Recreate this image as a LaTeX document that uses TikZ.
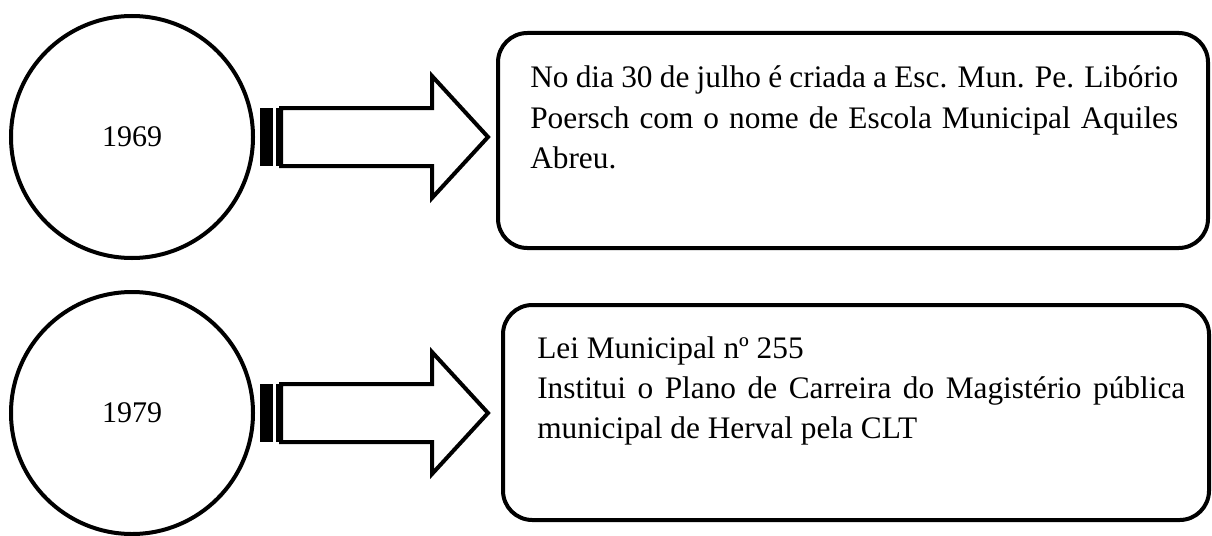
\documentclass[tikz,border=0pt]{standalone}
\usepackage{fontspec}
\setmainfont{Liberation Serif}
\usetikzlibrary{calc}
\tikzset{
  yearnode/.style={draw,circle,line width=3pt,minimum size=181.5pt,inner sep=0pt,outer sep=0pt,font=\fontsize{22.5}{26}\selectfont},
  eventbox/.style={draw,rectangle,rounded corners=22pt,line width=3pt,outer sep=0pt,minimum height=161.25pt},
  eventtext/.style={anchor=base west,inner sep=0pt,text width=486pt,align=justify,font=\fontsize{23.5}{30}\selectfont},
  blockarrow/.style={draw,line width=3pt,fill=white,line join=miter},
}

\begin{document}
\begin{tikzpicture}[x=0.75pt,y=-0.75pt]
  \useasboundingbox (0,0) rectangle (1212,535);
  % years
  \node[yearnode] (y1969) at (132,137) {1969};
  \node[yearnode] (y1979) at (132,413) {1979};
  % event boxes
  \node[eventbox,minimum width=532.5pt] (b1969) at (853,140.5) {};
  \node[eventbox,minimum width=529.5pt] (b1979) at (856,412.5) {};
  \node[eventtext] (t1969) at ($(b1969.north west)+(32,55)$)
    {No dia 30 de julho é criada a Esc. Mun. Pe. Libório\linebreak
     Poersch com o nome de Escola Municipal Aquiles\linebreak Abreu.};
  \node[eventtext] (t1979) at ($(b1979.north west)+(34,53)$)
    {Lei Municipal nº 255\\
     Institui o Plano de Carreira do Magistério pública\linebreak
     municipal de Herval pela CLT};
  % striped arrows
  \foreach \a in {y1969,y1979}{
    \coordinate (tip\a) at ($(\a.east)+(235,0)$);
    \fill ($(\a.east)+(7,-29)$) rectangle ++(13,58);
    \fill ($(\a.east)+(23,-29)$) rectangle ++(7,58);
    \draw[blockarrow] ($(\a.east)+(28,-29)$) -- ++(151,0) -- ++(0,-32) -- (tip\a)
      -- ($(tip\a)+(-56,61)$) -- ++(0,-32) -- ++(-151,0) -- cycle;
  }
\end{tikzpicture}
\end{document}
